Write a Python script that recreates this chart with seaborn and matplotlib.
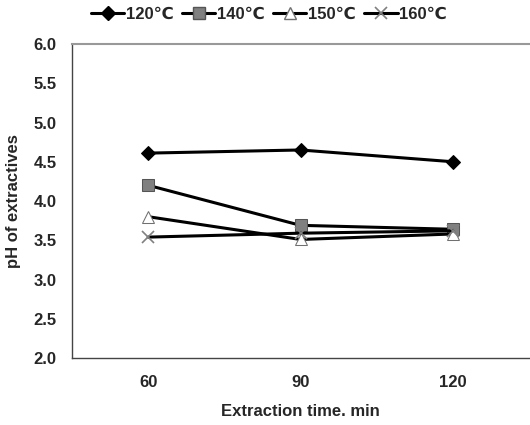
import matplotlib
matplotlib.use("Agg")
import matplotlib.pyplot as plt
import seaborn as sns
import pandas as pd
from matplotlib.lines import Line2D

sns.set_style("white")
plt.rcParams['font.family'] = ['Liberation Sans', 'DejaVu Sans']
plt.rcParams['font.weight'] = 'bold'

times = ["60", "90", "120"]
series_names = ["120℃", "140℃", "150℃", "160℃"]
ph_120 = [4.61, 4.65, 4.50]
ph_140 = [4.20, 3.69, 3.64]
ph_150 = [3.80, 3.51, 3.58]
ph_160 = [3.54, 3.59, 3.62]
y_ticks = [2.0, 2.5, 3.0, 3.5, 4.0, 4.5, 5.0, 5.5, 6.0]

values = [ph_120, ph_140, ph_150, ph_160]
styles = [
    dict(marker="D", markersize=7, markerfacecolor="black", markeredgecolor="black"),
    dict(marker="s", markersize=9, markerfacecolor="#808080", markeredgecolor="#555555"),
    dict(marker="^", markersize=9, markerfacecolor="white", markeredgecolor="#707070"),
    dict(marker="x", markersize=9, markeredgecolor="#808080", markeredgewidth=1.2),
]

fig = plt.figure(figsize=(5.3, 4.25), dpi=100)
ax = fig.add_axes([72/530, 1-358/425, 457/530, (358-44)/425])

pos = list(range(len(times)))
handles = []
for name, vals, st in zip(series_names, values, styles):
    df = pd.DataFrame({"pos": pos, "ph": vals})
    sns.lineplot(data=df, x="pos", y="ph", ax=ax, color="black", linewidth=2.2,
                 legend=False, **st)
    handles.append(Line2D([], [], color="black", linewidth=2.2, **st))

ax.set_xlim(-0.5, 2.5)
ax.set_ylim(2.0, 6.0)
ax.set_xticks(pos)
ax.set_xticklabels(times)
ax.set_yticks(y_ticks)
ax.set_yticklabels([f"{v:.1f}" for v in y_ticks])
ax.tick_params(axis="x", length=0, pad=12, labelsize=12)
ax.tick_params(axis="y", length=4, direction="out", color="#888888", width=0.8, pad=7, labelsize=12)
ax.set_xlabel("Extraction time. min", fontsize=12, fontweight="bold", labelpad=10)
ax.set_ylabel("pH of extractives", fontsize=12, fontweight="bold", labelpad=9)

ax.spines["right"].set_visible(False)
ax.spines["top"].set_color("#999999")
ax.spines["top"].set_linewidth(1.5)
ax.spines["left"].set_color("#444444")
ax.spines["left"].set_linewidth(1.0)
ax.spines["bottom"].set_color("#444444")
ax.spines["bottom"].set_linewidth(1.0)

fig.legend(handles, series_names, loc="center", bbox_to_anchor=(269/530, 1-14/425),
           ncol=4, frameon=False, handlelength=2.0, handletextpad=0.1,
           columnspacing=0.5, prop={"weight": "bold", "size": 12})

fig.savefig("out.png", dpi=100)
